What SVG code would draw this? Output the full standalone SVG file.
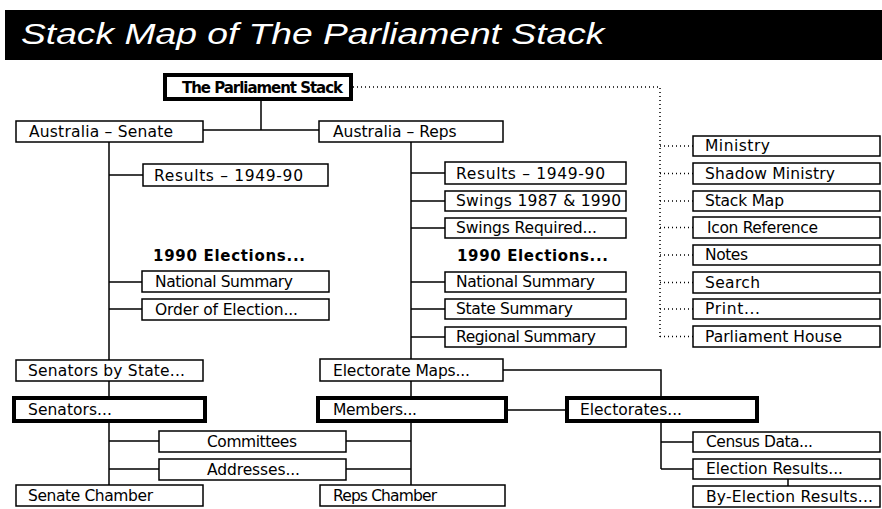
<svg xmlns="http://www.w3.org/2000/svg" width="882" height="509" viewBox="0 0 882 509">
<style>
.b{fill:#fff;stroke:#000;stroke-width:1.5}
.k{fill:#fff;stroke:#000;stroke-width:4}
.t{font-family:"DejaVu Sans",sans-serif;font-size:15.5px;fill:#000}
.bt{font-family:"DejaVu Sans",sans-serif;font-size:15px;font-weight:bold;fill:#000}
.c{fill:none;stroke:#000;stroke-width:1.5}
.d{fill:none;stroke:#000;stroke-width:1.5;stroke-dasharray:1 3}
</style>
<rect width="882" height="509" fill="#fff"/>
<g id="title">
<rect x="5" y="10" width="877" height="50" fill="#000"/>
<text x="21" y="44" font-family="Liberation Sans, sans-serif" font-style="italic" font-size="30" fill="#fff" textLength="584" lengthAdjust="spacingAndGlyphs" transform="translate(21 0) scale(0.999 1) translate(-21 0)">Stack Map of The Parliament Stack</text>
</g>
<g id="connectors">
<path class="c" d="M261 101V130M203 130H319"/>
<path class="c" d="M109 142V485M109 175H143M109 282H142M109 309H142M109 441H159M109 469H159"/>
<path class="c" d="M411 141V485M411 173H445M411 201H445M411 228H445M411 282H445M411 309H445M411 337H445M346 441H411M346 469H411"/>
<path class="c" d="M503 370H661V396M508 410H565M661 423V469M661 442H693M661 469H693M788 479V486"/>
<path class="d" d="M353 87H660V337M660 146H693M660 173.5H693M660 201H693M660 227.5H693M660 255H693M660 282.5H693M660 309H693M660 336.5H693"/>
</g>
<g id="n-parliament"><rect class="k" x="165" y="75" width="186" height="24"/><text class="bt" x="182" y="93" textLength="161">The Parliament Stack</text></g>
<g id="n-aus-senate"><rect class="b" x="16" y="121" width="187" height="21"/><text class="t" x="29" y="137" textLength="144">Australia – Senate</text></g>
<g id="n-aus-reps"><rect class="b" x="319" y="121" width="184" height="21"/><text class="t" x="333" y="137">Australia – Reps</text></g>
<g id="n-results-s"><rect class="b" x="143" y="164" width="185" height="22"/><text class="t" x="154" y="181" textLength="149">Results – 1949-90</text></g>
<g id="n-elections-s"><text class="bt" x="153" y="261" textLength="152">1990 Elections...</text></g>
<g id="n-national-s"><rect class="b" x="142" y="271" width="187" height="21"/><text class="t" x="155" y="287" textLength="138">National Summary</text></g>
<g id="n-order"><rect class="b" x="142" y="299" width="187" height="21"/><text class="t" x="155" y="315" textLength="143">Order of Election...</text></g>
<g id="n-results-r"><rect class="b" x="445" y="162" width="181" height="22"/><text class="t" x="456" y="179" textLength="149">Results – 1949-90</text></g>
<g id="n-swings"><rect class="b" x="445" y="191" width="181" height="20"/><text class="t" x="456" y="206" textLength="165">Swings 1987 &amp; 1990</text></g>
<g id="n-swings-req"><rect class="b" x="445" y="218" width="181" height="20"/><text class="t" x="456" y="233" textLength="141">Swings Required...</text></g>
<g id="n-elections-r"><text class="bt" x="457" y="261" textLength="151">1990 Elections...</text></g>
<g id="n-national-r"><rect class="b" x="445" y="272" width="181" height="20"/><text class="t" x="456" y="287" textLength="139">National Summary</text></g>
<g id="n-state"><rect class="b" x="445" y="299" width="181" height="20"/><text class="t" x="456" y="314" textLength="117">State Summary</text></g>
<g id="n-regional"><rect class="b" x="445" y="327" width="181" height="20"/><text class="t" x="456" y="342" textLength="140">Regional Summary</text></g>
<g id="n-ministry"><rect class="b" x="693" y="136" width="187" height="20"/><text class="t" x="705" y="151" textLength="65">Ministry</text></g>
<g id="n-shadow"><rect class="b" x="693" y="163" width="187" height="21"/><text class="t" x="705" y="179" textLength="130">Shadow Ministry</text></g>
<g id="n-stackmap"><rect class="b" x="693" y="191" width="187" height="20"/><text class="t" x="705" y="206" textLength="79">Stack Map</text></g>
<g id="n-icon"><rect class="b" x="693" y="217" width="187" height="21"/><text class="t" x="707" y="233" textLength="111">Icon Reference</text></g>
<g id="n-notes"><rect class="b" x="693" y="245" width="187" height="20"/><text class="t" x="705" y="260" textLength="43">Notes</text></g>
<g id="n-search"><rect class="b" x="693" y="272" width="187" height="21"/><text class="t" x="705" y="288" textLength="55">Search</text></g>
<g id="n-print"><rect class="b" x="693" y="299" width="187" height="20"/><text class="t" x="705" y="314" textLength="55">Print...</text></g>
<g id="n-house"><rect class="b" x="693" y="326" width="187" height="21"/><text class="t" x="705" y="342" textLength="137">Parliament House</text></g>
<g id="n-senators-state"><rect class="b" x="16" y="360" width="187" height="21"/><text class="t" x="28" y="376" textLength="157">Senators by State...</text></g>
<g id="n-senators"><rect class="k" x="14" y="398" width="191" height="23"/><text class="t" x="28" y="415" textLength="84">Senators...</text></g>
<g id="n-committees"><rect class="b" x="159" y="431" width="187" height="21"/><text class="t" x="207" y="447" textLength="90">Committees</text></g>
<g id="n-addresses"><rect class="b" x="159" y="459" width="187" height="21"/><text class="t" x="207" y="475" textLength="93">Addresses...</text></g>
<g id="n-senate-chamber"><rect class="b" x="16" y="485" width="187" height="21"/><text class="t" x="28" y="501" textLength="125">Senate Chamber</text></g>
<g id="n-electorate-maps"><rect class="b" x="320" y="359" width="183" height="22"/><text class="t" x="333" y="376" textLength="137">Electorate Maps...</text></g>
<g id="n-members"><rect class="k" x="318" y="398" width="188" height="23"/><text class="t" x="333" y="415" textLength="84">Members...</text></g>
<g id="n-reps-chamber"><rect class="b" x="320" y="485" width="185" height="21"/><text class="t" x="333" y="501" textLength="104">Reps Chamber</text></g>
<g id="n-electorates"><rect class="k" x="567" y="398" width="190" height="23"/><text class="t" x="580" y="415" textLength="102">Electorates...</text></g>
<g id="n-census"><rect class="b" x="693" y="432" width="187" height="20"/><text class="t" x="706" y="447" textLength="107">Census Data...</text></g>
<g id="n-election-results"><rect class="b" x="693" y="459" width="187" height="20"/><text class="t" x="706" y="474" textLength="137">Election Results...</text></g>
<g id="n-by-election"><rect class="b" x="693" y="486" width="187" height="21"/><text class="t" x="706" y="502" textLength="167">By-Election Results...</text></g>
</svg>
